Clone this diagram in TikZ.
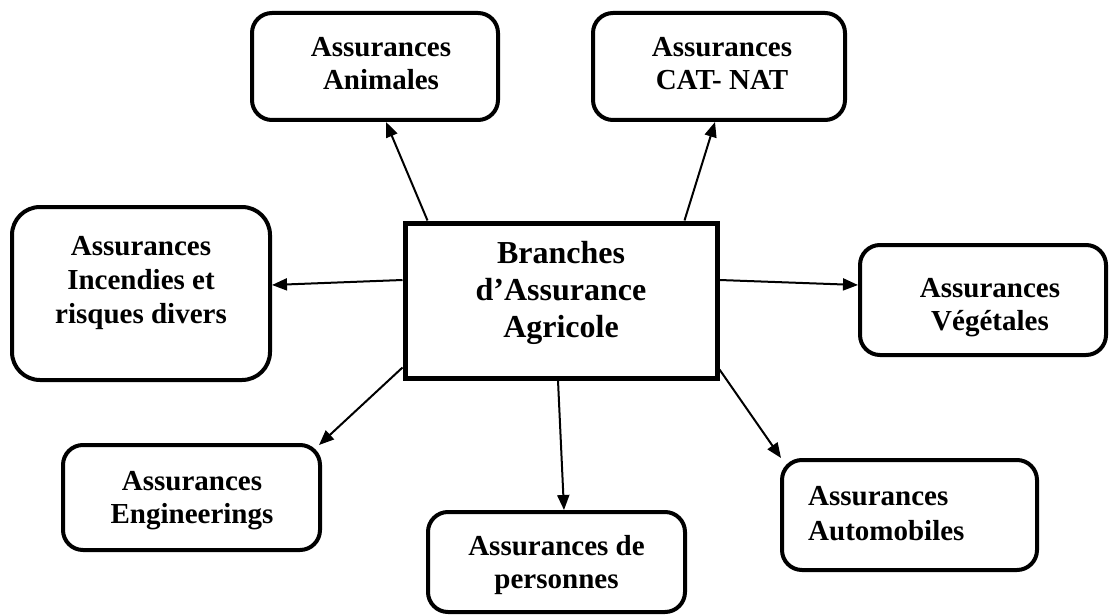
\documentclass[tikz,border=0pt]{standalone}
\usepackage{fontspec}
\setmainfont{Liberation Serif}
\usetikzlibrary{arrows.meta,calc}
\begin{document}
\begin{tikzpicture}[x=1pt,y=-1pt,
  box/.style={draw=black,line width=4pt,rounded corners=20pt,inner sep=0pt},
  mainbox/.style={draw=black,line width=5pt,inner sep=0pt},
  lbl/.style={font=\fontsize{29}{33}\selectfont\bfseries,align=center,inner sep=0pt,anchor=base},
  mainlbl/.style={font=\fontsize{32}{37}\selectfont\bfseries,align=center,inner sep=0pt,anchor=base},
  arr/.style={line width=2pt,-{Triangle[length=15pt,width=12pt]}}]
\useasboundingbox (0,0) rectangle (1110,615);
% boxes
\node[box,minimum width=246pt,minimum height=107pt] (anim) at (375,66.5) {};
\node[box,minimum width=252pt,minimum height=107pt] (cat) at (719,66.5) {};
\node[mainbox,minimum width=312pt,minimum height=155pt] (c) at (561,300.5) {};
\node[box,rounded corners=28pt,minimum width=258pt,minimum height=173pt] (inc) at (141,293.5) {};
\node[box,minimum width=246pt,minimum height=110pt] (veg) at (983,300) {};
\node[box,minimum width=257pt,minimum height=105pt] (eng) at (191.5,497.5) {};
\node[box,minimum width=257pt,minimum height=100pt] (pers) at (556.5,562) {};
\node[box,minimum width=255pt,minimum height=110pt] (auto) at (909.5,515) {};
% labels (anchor = baseline of the last line)
\node[lbl] (animT) at (381,90) {Assurances\\Animales};
\node[lbl] (catT) at (722,90) {Assurances\\CAT- NAT};
\node[mainlbl] (cT) at (561,337) {Branches\\d’Assurance\\Agricole};
\node[lbl,font=\fontsize{29}{34}\selectfont\bfseries] (incT) at (141,323) {Assurances\\Incendies et\\risques divers};
\node[lbl] (vegT) at (990,330) {Assurances\\Végétales};
\node[lbl] (engT) at (192,523) {Assurances\\Engineerings};
\node[lbl] (persT) at (556.5,588) {Assurances de\\personnes};
\node[lbl,align=left,anchor=base west,font=\fontsize{29}{35}\selectfont\bfseries] (autoT) at (808,540) {Assurances\\Automobiles};
% arrows
\draw[arr] ([xshift=25pt]c.north west) -- ([xshift=136pt]anim.south west);
\draw[arr] ([xshift=-35pt]c.north east) -- ([xshift=124pt]cat.south west);
\draw[arr] ([yshift=20.5pt]c.west) -- ([yshift=8.5pt]inc.east);
\draw[arr] ([yshift=20.5pt]c.east) -- ([yshift=15pt]veg.west);
\draw[arr] ([yshift=13pt]c.south west) -- ([xshift=-3pt,yshift=-2pt]eng.north east);
\draw[arr] ([xshift=-3pt]c.south) -- ([xshift=7.5pt]pers.north);
\draw[arr] ([yshift=11pt]c.south east) -- ([xshift=1pt]auto.north west);
\end{tikzpicture}
\end{document}
